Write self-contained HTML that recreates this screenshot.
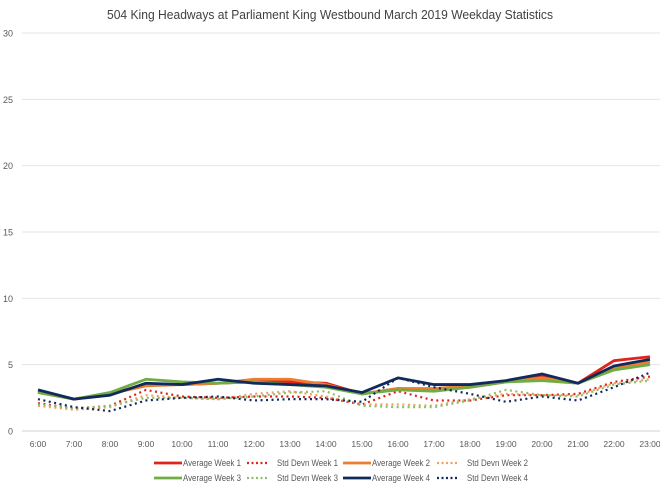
<!DOCTYPE html>
<html><head><meta charset="utf-8"><style>
body{margin:0;background:#fff;font-family:"Liberation Sans",sans-serif}
svg text{font-family:"Liberation Sans",sans-serif;fill:#595959}
</style></head><body>
<svg id="c" width="660" height="490">
<text x="330" y="19" font-size="13" text-anchor="middle" textLength="446" lengthAdjust="spacingAndGlyphs" style="fill:#404040">504 King Headways at Parliament King Westbound March 2019 Weekday Statistics</text>
<g id="grid"></g><g id="series"></g><g id="legend"></g>
</svg>
<script>
const categories=["6:00","7:00","8:00","9:00","10:00","11:00","12:00","13:00","14:00","15:00","16:00","17:00","18:00","19:00","20:00","21:00","22:00","23:00"];
const yTicks=[0,5,10,15,20,25,30];
const avgW1=[3.0,2.4,2.8,3.5,3.5,3.6,3.7,3.7,3.6,2.8,3.2,3.1,3.3,3.7,4.1,3.6,5.3,5.6];
const sdW1=[2.1,1.7,1.9,3.1,2.6,2.5,2.6,2.6,2.5,2.0,3.0,2.3,2.3,2.7,2.7,2.8,3.7,4.1];
const avgW2=[2.9,2.4,2.8,3.4,3.5,3.6,3.9,3.9,3.5,2.8,3.2,3.2,3.4,3.7,4.0,3.6,4.7,5.2];
const sdW2=[1.9,1.6,1.8,2.7,2.5,2.4,2.8,3.0,2.6,2.0,2.0,1.9,2.4,2.8,2.7,2.7,3.6,3.9];
const avgW3=[2.9,2.4,2.9,3.9,3.7,3.6,3.7,3.5,3.3,2.8,3.1,3.0,3.3,3.7,3.8,3.6,4.6,5.0];
const sdW3=[2.0,1.7,1.9,2.5,2.5,2.4,2.6,2.9,3.0,1.9,1.8,1.8,2.3,3.1,2.7,2.6,3.5,3.8];
const avgW4=[3.1,2.4,2.7,3.6,3.5,3.9,3.6,3.5,3.4,2.9,4.0,3.5,3.5,3.8,4.3,3.6,4.9,5.4];
const sdW4=[2.4,1.8,1.5,2.3,2.5,2.6,2.3,2.4,2.4,2.2,4.0,3.3,2.8,2.2,2.6,2.3,3.3,4.4];
const NS="http://www.w3.org/2000/svg";
const x=i=>38+i*36, y=v=>431-v*(398/30);
function mk(t,a,p){const e=document.createElementNS(NS,t);for(const k in a)e.setAttribute(k,a[k]);p.appendChild(e);return e;}
const g=document.getElementById('grid');
yTicks.forEach(v=>{
 const l=mk('line',{x1:22,x2:660,y1:y(v),y2:y(v),stroke:v===0?'#d0d0d0':'#e4e4e4','stroke-width':1},g);
 
 
 const t=mk('text',{x:13,y:y(v)+3.5,'font-size':9,'text-anchor':'end'},g);t.textContent=v;
 
 
});
categories.forEach((c,i)=>{
 const t=mk('text',{x:x(i),y:447,'font-size':8.5,'text-anchor':'middle'},g);t.textContent=c;
 
 
});
const series=[
 ["Average Week 1",avgW1,"#e0231c",false],["Std Devn Week 1",sdW1,"#e0231c",true],
 ["Average Week 2",avgW2,"#ed7d31",false],["Std Devn Week 2",sdW2,"#f0a060",true],
 ["Average Week 3",avgW3,"#70ad47",false],["Std Devn Week 3",sdW3,"#8cbf6a",true],
 ["Average Week 4",avgW4,"#112a5c",false],["Std Devn Week 4",sdW4,"#112a5c",true]];
const sg=document.getElementById('series');
series.forEach(([n,d,col,dot])=>{
 const p=mk('polyline',{points:d.map((v,i)=>x(i)+','+y(v)).join(' '),fill:'none',stroke:col,'stroke-width':dot?2.2:2.8,'stroke-dasharray':dot?'2 3.5':'none','stroke-linejoin':'round'},sg);
 
 
});
const lg=document.getElementById('legend');
const lx=[154,247,343,437], ly=[463,478];
series.forEach(([n,d,col,dot],k)=>{
 const r=Math.floor(k/4), c=k%4, yy=ly[r];
 const ge=mk('g',{},lg);
 
 
 if(dot){mk('line',{x1:lx[c],x2:lx[c]+20,y1:yy,y2:yy,stroke:col,'stroke-width':2.2,'stroke-dasharray':'2 2.5'},ge);}
 else mk('line',{x1:lx[c],x2:lx[c]+28,y1:yy,y2:yy,stroke:col,'stroke-width':2.8},ge);
 const t=mk('text',{x:lx[c]+(dot?30:29),y:yy+3,'font-size':9,textLength:dot?61:58,lengthAdjust:'spacingAndGlyphs'},ge);t.textContent=n;
});
</script>
</body></html>
